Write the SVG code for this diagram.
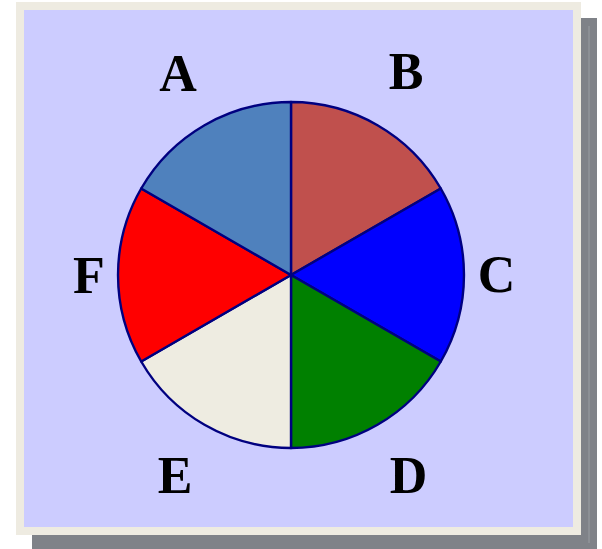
<svg xmlns="http://www.w3.org/2000/svg" width="602" height="549" viewBox="0 0 602 549">
<style>
.slice{stroke:#000080;stroke-width:2.4;stroke-linejoin:round}
.lbl{font-family:"Liberation Serif","DejaVu Serif",serif;font-weight:bold;font-size:52px;fill:#000;text-anchor:middle}
</style>
<rect x="32" y="18" width="565" height="531" fill="#7f8288"/>
<line x1="589" y1="26" x2="589" y2="543" stroke="#9a9da2" stroke-width="1"/>
<rect x="20" y="6" width="557" height="525" fill="#ccccff" stroke="#eeebe1" stroke-width="8"/>
<g id="pie">
<g id="slice-B"><path class="slice" fill="#c0504d" d="M291,275 L291,102 A173,173 0 0 1 440.8,188.5 Z"/></g>
<g id="slice-C"><path class="slice" fill="#0000ff" d="M291,275 L440.8,188.5 A173,173 0 0 1 440.8,361.5 Z"/></g>
<g id="slice-D"><path class="slice" fill="#008000" d="M291,275 L440.8,361.5 A173,173 0 0 1 291,448 Z"/></g>
<g id="slice-E"><path class="slice" fill="#eeece1" d="M291,275 L291,448 A173,173 0 0 1 141.2,361.5 Z"/></g>
<g id="slice-F"><path class="slice" fill="#ff0000" d="M291,275 L141.2,361.5 A173,173 0 0 1 141.2,188.5 Z"/></g>
<g id="slice-A"><path class="slice" fill="#4f81bd" d="M291,275 L141.2,188.5 A173,173 0 0 1 291,102 Z"/></g>
</g>
<g id="labels">
<text class="lbl" x="178" y="91">A</text>
<text class="lbl" x="406" y="89">B</text>
<text class="lbl" x="496.5" y="292">C</text>
<text class="lbl" x="408.5" y="493">D</text>
<text class="lbl" x="175" y="493">E</text>
<text class="lbl" x="89" y="293">F</text>
</g>
</svg>
